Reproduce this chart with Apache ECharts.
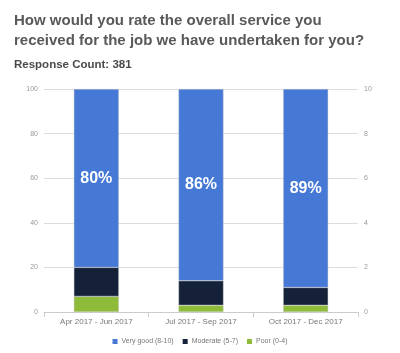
<!DOCTYPE html>
<html><head><meta charset="utf-8">
<script src="https://cdn.jsdelivr.net/npm/echarts@6/dist/echarts.min.js"></script>
<style>html,body{margin:0;padding:0;background:#fff}#c{width:400px;height:353px}</style>
</head><body><div id="c"></div>
<script>
const categories = ['Apr 2017 - Jun 2017', 'Jul 2017 - Sep 2017', 'Oct 2017 - Dec 2017'];
const poor = [7, 3, 3];
const moderate = [13, 11, 8];
const veryGood = [80, 86, 89];
const leftTicks = [0, 20, 40, 60, 80, 100];
const rightTicks = [0, 2, 4, 6, 8, 10];

const chart = echarts.init(document.getElementById('c'), null, {renderer: 'canvas'});
const font = 'Helvetica, "Liberation Sans", Arial, sans-serif';
const seg = (name, data, color, label) => ({
  name, type: 'bar', stack: 'a', data, barWidth: '43%',
  itemStyle: {color, borderColor: 'rgba(200,200,200,0.8)', borderWidth: 0.5},
  label: label ? {show: true, position: 'inside', formatter: p => p.value + '%', color: '#fff', fontSize: 16, fontWeight: 'bold', fontFamily: font} : {show: false},
  emphasis: {disabled: true}
});
chart.setOption({
  animation: false,
  textStyle: {fontFamily: font},
  title: [
    {text: 'How would you rate the overall service you\nreceived for the job we have undertaken for you?', left: 9, top: 6,
     textStyle: {fontSize: 15, fontWeight: 'bold', color: '#595959', lineHeight: 20, fontFamily: font}},
    {text: 'Response Count: 381', left: 9, top: 54, textStyle: {fontSize: 11.5, fontWeight: 'bold', color: '#4a4a4a', fontFamily: font}}
  ],
  legend: {bottom: 3, left: 'center', itemWidth: 5, itemHeight: 5, itemGap: 9, icon: 'rect',
    itemStyle: {borderWidth: 0},
    textStyle: {fontSize: 7, color: '#777', fontFamily: font, padding: [0, 0, 0, -1]},
    data: ['Very good (8-10)', 'Moderate (5-7)', 'Poor (0-4)']},
  grid: {left: 44, right: 42, top: 89, bottom: 41},
  xAxis: {type: 'category', data: categories,
    axisLine: {lineStyle: {color: '#ccc'}}, axisTick: {show: true, lineStyle: {color: '#ccc'}, length: 5},
    axisLabel: {fontSize: 8, color: '#777', margin: 6}},
  yAxis: [
    {type: 'value', min: 0, max: 100, interval: 20, position: 'left',
     axisLabel: {fontSize: 7, color: '#999', margin: 6, formatter: v => leftTicks.includes(v) ? String(v) : ''},
     splitLine: {lineStyle: {color: '#ddd'}}, axisLine: {show: false}, axisTick: {show: false}},
    {type: 'value', min: 0, max: 10, interval: 2, position: 'right',
     axisLabel: {fontSize: 7, color: '#999', margin: 6, formatter: v => rightTicks.includes(v) ? String(v) : ''},
     splitLine: {show: false}, axisLine: {show: false}, axisTick: {show: false}}
  ],
  series: [
    seg('Poor (0-4)', poor, '#8fbb3b', false),
    seg('Moderate (5-7)', moderate, '#142138', false),
    seg('Very good (8-10)', veryGood, '#4679d6', true)
  ]
});
</script></body></html>
